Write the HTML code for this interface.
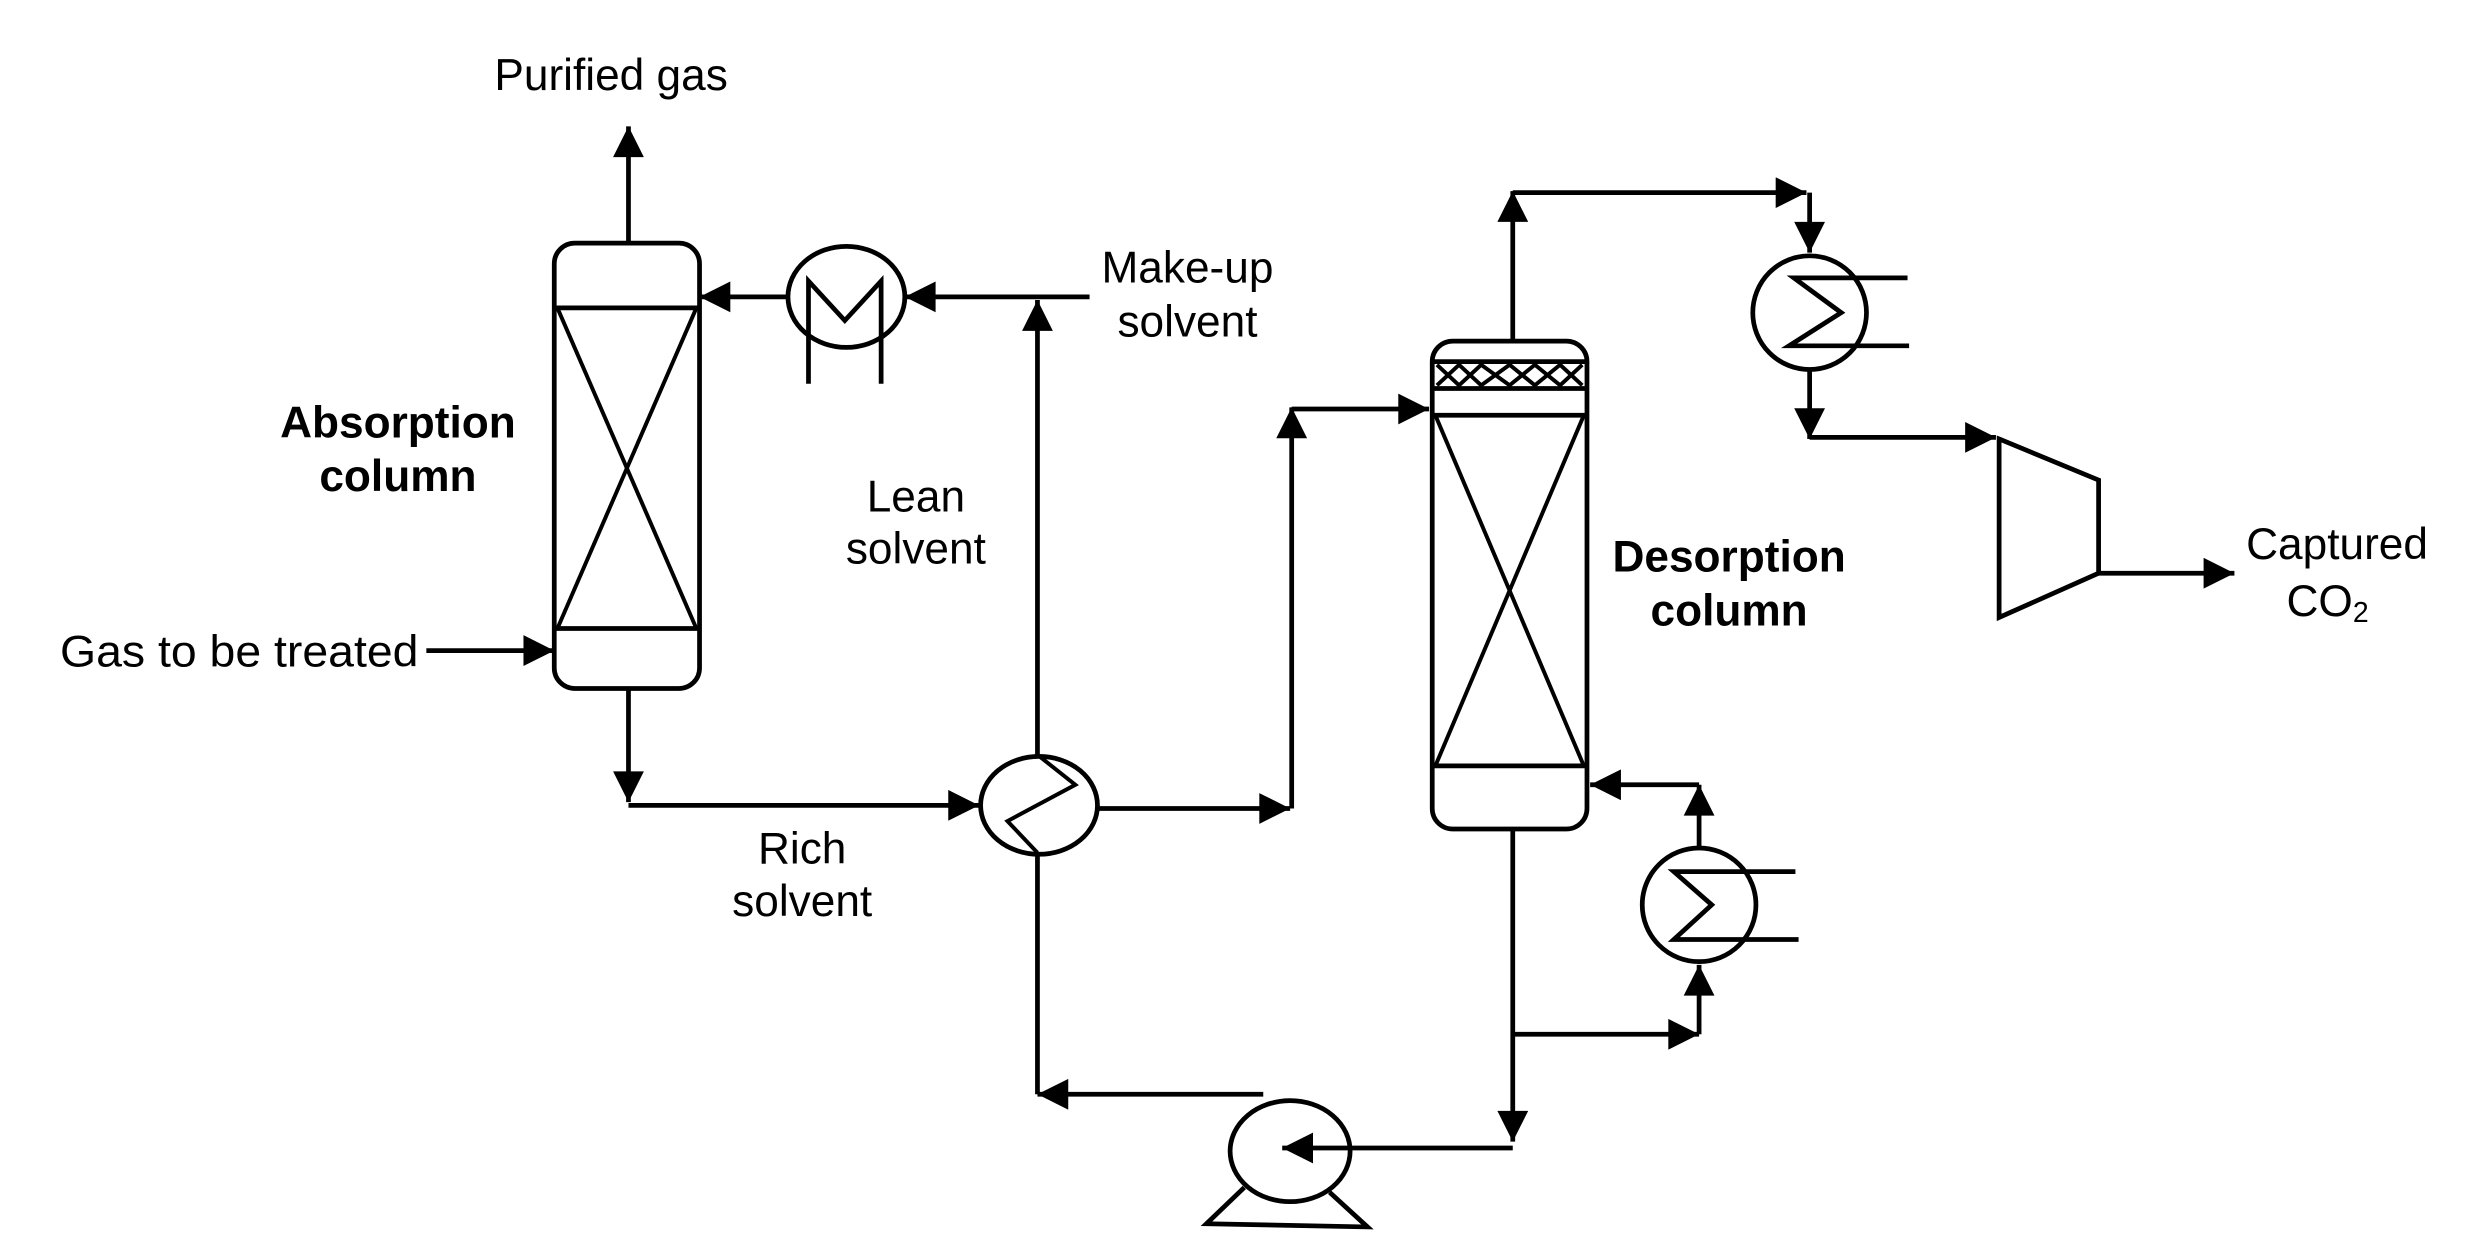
<!DOCTYPE html>
<html><head><meta charset="utf-8"><style>
html,body{margin:0;padding:0;background:#fff;}
svg{display:block;}
text{font-family:"Liberation Sans",Arial,sans-serif;font-size:28px;fill:#000;}
.b{font-weight:bold;}
</style></head><body>
<svg width="2476" height="1250" viewBox="0 0 1568 791.6" preserveAspectRatio="none" xmlns="http://www.w3.org/2000/svg">
<defs>
<marker id="a" viewBox="0 0 10 10" refX="10" refY="5" markerWidth="7" markerHeight="6.5" orient="auto" markerUnits="strokeWidth">
<path d="M0,0 L10,5 L0,10 z" fill="#000"/></marker>
</defs>
<g fill="none" stroke="#000" stroke-width="3">
<rect x="351" y="154" width="92" height="282" rx="13"/>
<line x1="351" y1="195" x2="443" y2="195"/>
<line x1="351" y1="398" x2="443" y2="398"/>
<line x1="353" y1="195" x2="441" y2="398" stroke-width="2.5"/>
<line x1="441" y1="195" x2="353" y2="398" stroke-width="2.5"/>
<line x1="398" y1="154" x2="398" y2="80" marker-end="url(#a)"/>
<line x1="270" y1="412" x2="351" y2="412" marker-end="url(#a)"/>
<polyline points="398,436 398,508" marker-end="url(#a)"/>
<polyline points="398,510 620,510" marker-end="url(#a)"/>
<ellipse cx="536" cy="188" rx="37" ry="32"/>
<polyline points="512,243 512,178 535,203 558,178 558,243"/>
<line x1="499" y1="188" x2="443" y2="188" marker-end="url(#a)"/>
<line x1="690" y1="188" x2="573" y2="188" marker-end="url(#a)"/>
<line x1="657" y1="478" x2="657" y2="190" marker-end="url(#a)"/>
<ellipse cx="658" cy="510" rx="37" ry="31"/>
<polyline points="657,478 681,497 638,520 657,540" stroke-width="2.5"/>
<line x1="695" y1="512" x2="817" y2="512" marker-end="url(#a)"/>
<line x1="818" y1="512" x2="818" y2="258" marker-end="url(#a)"/>
<line x1="818" y1="259" x2="905" y2="259" marker-end="url(#a)"/>
<polyline points="657,541 657,693"/>
<line x1="800" y1="693" x2="657" y2="693" marker-end="url(#a)"/>
<rect x="907" y="216" width="98" height="309" rx="13"/>
<line x1="907" y1="229" x2="1005" y2="229"/>
<line x1="907" y1="246" x2="1005" y2="246"/>
<line x1="907" y1="263" x2="1005" y2="263"/>
<line x1="907" y1="485" x2="1005" y2="485"/>
<line x1="909" y1="263" x2="1003" y2="485" stroke-width="2.5"/>
<line x1="1003" y1="263" x2="909" y2="485" stroke-width="2.5"/>
<polyline points="910,231 924,244 938,231 956,244 972,231 988,244 1002,231" stroke-width="2.5"/>
<polyline points="910,244 924,231 938,244 956,231 972,244 988,231 1002,244" stroke-width="2.5"/>
<line x1="958" y1="216" x2="958" y2="121" marker-end="url(#a)"/>
<line x1="958" y1="122" x2="1144" y2="122" marker-end="url(#a)"/>
<line x1="1146" y1="122" x2="1146" y2="160" marker-end="url(#a)"/>
<circle cx="1146" cy="198" r="36"/>
<polyline points="1208,176 1136,176 1166,198 1133,219 1209,219"/>
<line x1="1146" y1="234" x2="1146" y2="278" marker-end="url(#a)"/>
<line x1="1146" y1="277" x2="1264" y2="277" marker-end="url(#a)"/>
<polygon points="1266,278 1329,304 1329,363 1266,391"/>
<line x1="1329" y1="363" x2="1415" y2="363" marker-end="url(#a)"/>
<line x1="958" y1="525" x2="958" y2="723" marker-end="url(#a)"/>
<line x1="958" y1="727" x2="812" y2="727" marker-end="url(#a)"/>
<line x1="958" y1="655" x2="1076" y2="655" marker-end="url(#a)"/>
<line x1="1076" y1="655" x2="1076" y2="611" marker-end="url(#a)"/>
<circle cx="1076" cy="573" r="36"/>
<polyline points="1137,552 1060,552 1084,573 1060,595 1139,595"/>
<line x1="1076" y1="537" x2="1076" y2="497" marker-end="url(#a)"/>
<line x1="1076" y1="497" x2="1007" y2="497" marker-end="url(#a)"/>
<ellipse cx="817" cy="729" rx="38" ry="32"/>
<polyline points="788,752 764,775 866,777 842,755"/>
</g>
<text x="387" y="57" text-anchor="middle">Purified gas</text>
<text x="38" y="422" textLength="227" lengthAdjust="spacingAndGlyphs">Gas to be treated</text>
<text class="b" x="252" y="277" text-anchor="middle">Absorption</text>
<text class="b" x="252" y="311" text-anchor="middle">column</text>
<text x="752" y="179" text-anchor="middle">Make-up</text>
<text x="752" y="213" text-anchor="middle">solvent</text>
<text x="580" y="324" text-anchor="middle">Lean</text>
<text x="580" y="357" text-anchor="middle">solvent</text>
<text x="508" y="547" text-anchor="middle">Rich</text>
<text x="508" y="580" text-anchor="middle">solvent</text>
<text class="b" x="1095" y="362" text-anchor="middle">Desorption</text>
<text class="b" x="1095" y="396" text-anchor="middle">column</text>
<text x="1480" y="354" text-anchor="middle">Captured</text>
<text x="1474" y="390" text-anchor="middle">CO<tspan font-size="18" dy="4">2</tspan></text>
</svg>
</body></html>
